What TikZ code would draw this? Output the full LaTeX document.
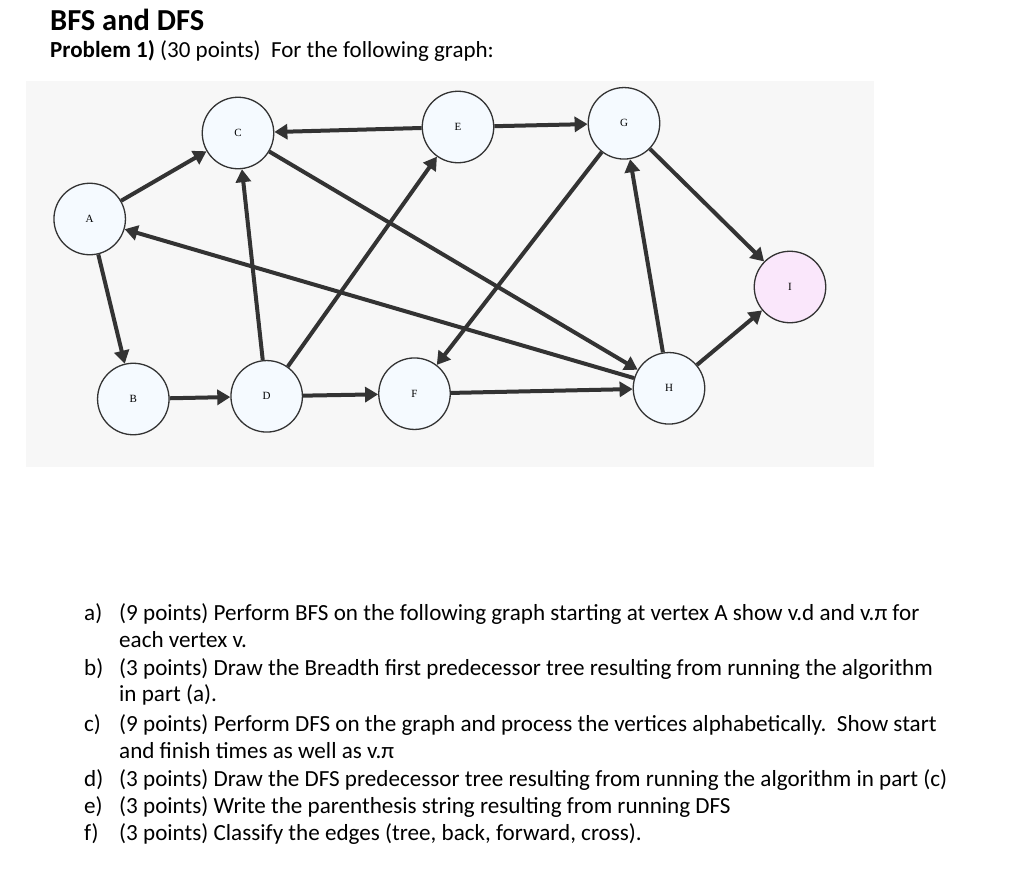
\documentclass[tikz,border=0pt]{standalone}
\usepackage{fontspec}
\setmainfont{Carlito}
\newfontfamily\nodefont{Liberation Serif}
\usetikzlibrary{arrows.meta}
\definecolor{edgec}{HTML}{333333}
\definecolor{nodefill}{HTML}{F5FAFF}
\definecolor{ifill}{HTML}{FAE7FB}
\definecolor{bgc}{HTML}{F7F7F7}
\begin{document}
\begin{tikzpicture}[x=1pt,y=-1pt,
  vtx/.style={circle,draw=edgec,line width=1.3pt,fill=nodefill,minimum size=71.5pt,inner sep=0pt,font=\nodefont\fontsize{11}{11}\selectfont},
  edge/.style={draw=edgec,line width=4pt,-{Triangle[length=13pt,width=15pt]}},
  txt/.style={anchor=base west,inner sep=0pt,font=\fontsize{23.1}{26}\selectfont},
  lbl/.style={txt}]
\useasboundingbox (0,0) rectangle (1023,884);
\fill[bgc] (26,81) rectangle (874,466.5);
% vertices
\node[vtx] (A) at (89.7,219) {A};
\node[vtx] (C) at (238,133) {C};
\node[vtx] (E) at (458,127) {E};
\node[vtx] (G) at (624,123.3) {G};
\node[vtx,fill=ifill] (I) at (790,287) {I};
\node[vtx] (B) at (133.3,399) {B};
\node[vtx] (D) at (266.7,396.3) {D};
\node[vtx] (F) at (414.5,393.7) {F};
\node[vtx] (H) at (669,388.3) {H};
% edges
\draw[edge] (A) -- (C);
\draw[edge] (A) -- (B);
\draw[edge] (E) -- (C);
\draw[edge] (C) -- (H);
\draw[edge] (H) -- (A);
\draw[edge] (D) -- (C);
\draw[edge] (D) -- (E);
\draw[edge] (B) -- (D);
\draw[edge] (D) -- (F);
\draw[edge] (E) -- (G);
\draw[edge] (G) -- (F);
\draw[edge] (G) -- (I);
\draw[edge] (H) -- (G);
\draw[edge] (F) -- (H);
\draw[edge] (H) -- (I);
% texts
\node[anchor=base west,inner sep=0pt,font=\bfseries\fontsize{30.5}{36}\selectfont] (title) at (50,30) {BFS and DFS};
\node[anchor=base west,inner sep=0pt,font=\fontsize{23}{26}\selectfont] (prob) at (50,57.3) {\textbf{Problem 1)} (30 points)\ \ For the following graph:};
\node[lbl] (la) at (84,620) {a)};
\node[txt] (ta1) at (119,620) {(9 points) Perform BFS on the following graph starting at vertex A show v.d and v.π for};
\node[txt] (ta2) at (119,647.3) {each vertex v.};
\node[lbl] (lb) at (84,675) {b)};
\node[txt] (tb1) at (119,675) {(3 points) Draw the Breadth first predecessor tree resulting from running the algorithm};
\node[txt] (tb2) at (119,701.7) {in part (a).};
\node[lbl] (lc) at (84,731.7) {c)};
\node[txt] (tc1) at (119,731.7) {(9 points) Perform DFS on the graph and process the vertices alphabetically.\ \ Show start};
\node[txt] (tc2) at (119,758.3) {and finish times as well as v.π};
\node[lbl] (ld) at (84,786) {d)};
\node[txt] (td) at (119,786) {(3 points) Draw the DFS predecessor tree resulting from running the algorithm in part (c)};
\node[lbl] (le) at (84,813.3) {e)};
\node[txt] (te) at (119,813.3) {(3 points) Write the parenthesis string resulting from running DFS};
\node[lbl] (lf) at (84,840) {f)};
\node[txt] (tf) at (119,840) {(3 points) Classify the edges (tree, back, forward, cross).};
\end{tikzpicture}
\end{document}
